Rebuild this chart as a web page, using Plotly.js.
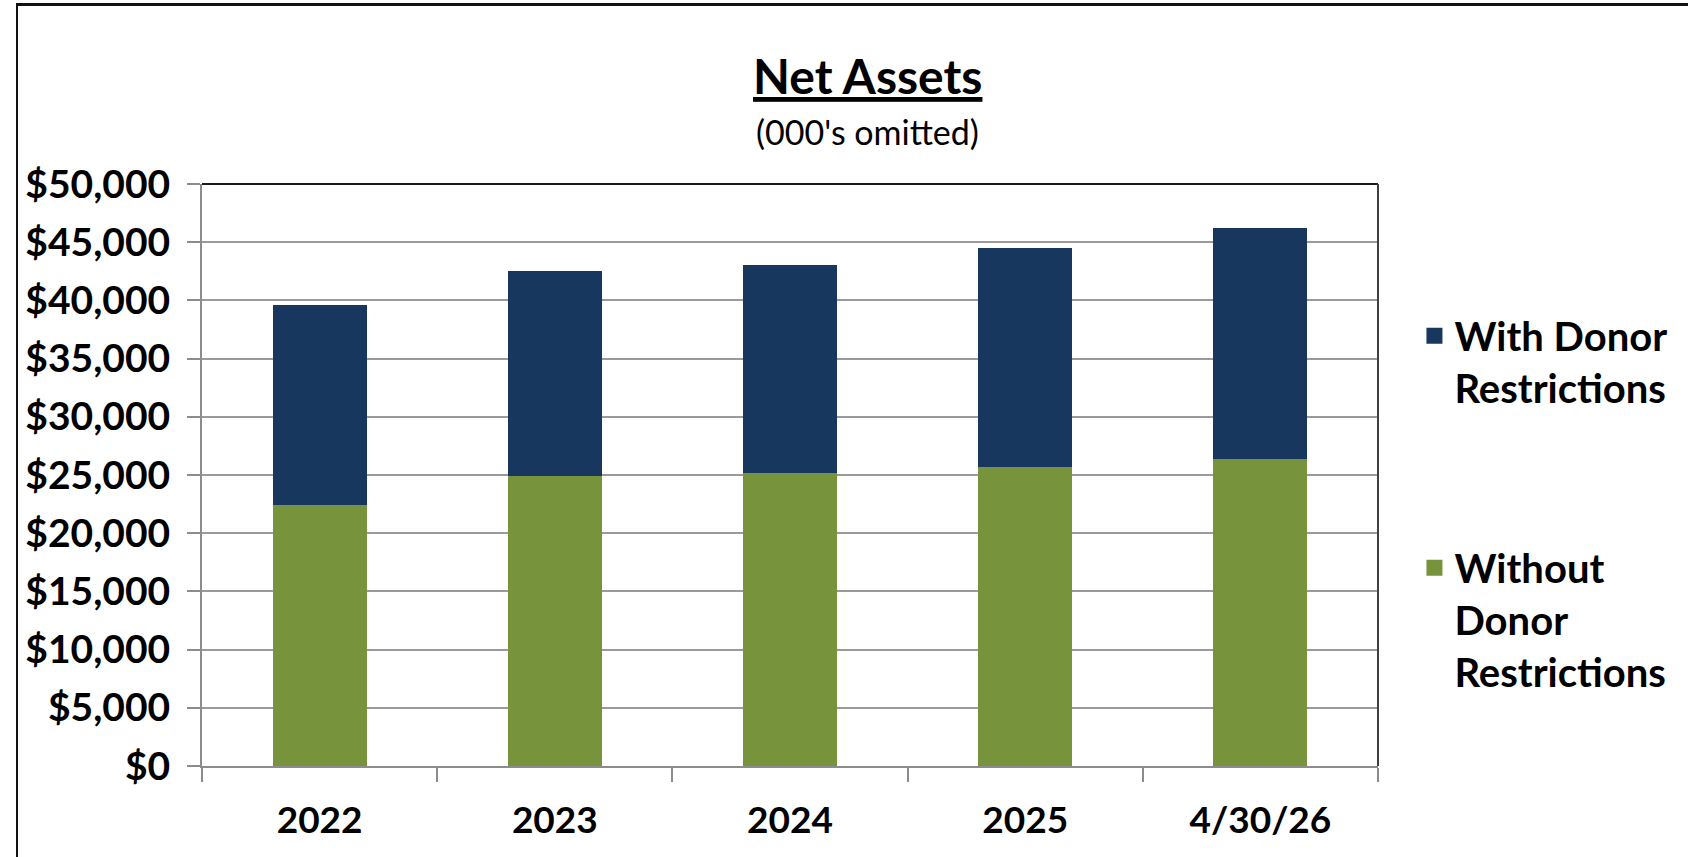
<!DOCTYPE html>
<html>
<head>
<meta charset="utf-8">
<script src="https://cdn.plot.ly/plotly-3.0.1.min.js"></script>
<style>
  body { margin: 0; background: #fff; }
  #chart { width: 1688px; height: 857px; }
  /* frame lines of the original slide, top and left */
  #frame {
    position: absolute; left: 16px; top: 3px; width: 1700px; height: 900px;
    border-top: 3px solid #111; border-left: 2px solid #111;
    pointer-events: none;
  }
</style>
</head>
<body>
<div id="chart"></div>
<div id="frame"></div>
<script>
// values in $000's
const periods = ["2022", "2023", "2024", "2025", "4/30/26"];
const withoutDonor = [22450, 24900, 25150, 25700, 26350];
const withDonor = [17150, 17600, 17850, 18800, 19850];

const NAVY = "#17375E";
const GREEN = "#77933C";
const FONT = "Lato, 'Open Sans', sans-serif";

const WITH_LABEL = "With Donor<br>Restrictions";
const WITHOUT_LABEL = "Without<br>Donor<br>Restrictions";

const traces = [
  {
    type: "bar",
    name: WITHOUT_LABEL,
    x: periods,
    y: withoutDonor,
    marker: { color: GREEN },
    showlegend: false,
    hoverinfo: "y"
  },
  {
    type: "bar",
    name: WITH_LABEL,
    x: periods,
    y: withDonor,
    marker: { color: NAVY },
    showlegend: false,
    hoverinfo: "y"
  },
  // legend-only entries, so the swatches can be bigger than the bar default
  {
    type: "scatter", mode: "markers", name: WITH_LABEL,
    x: [null], y: [null], legendgroup: "with",
    marker: { symbol: "square", size: 24, color: NAVY }
  },
  {
    type: "scatter", mode: "markers", name: WITHOUT_LABEL,
    x: [null], y: [null], legendgroup: "without",
    marker: { symbol: "square", size: 24, color: GREEN }
  }
];

const layout = {
  width: 1688,
  height: 857,
  margin: { l: 202, r: 310, t: 184, b: 91 },
  paper_bgcolor: "#fff",
  plot_bgcolor: "#fff",
  barmode: "stack",
  bargap: 0.6,
  font: { family: FONT, color: "#000" },
  showlegend: true,
  legend: {
    x: 1.031, xanchor: "left",
    y: 0.795, yanchor: "top",
    font: { family: FONT, size: 40, color: "#000", weight: "bold" },
    traceorder: "grouped",
    tracegroupgap: 125,
    valign: "top"
  },
  xaxis: {
    type: "category",
    showline: true, linecolor: "#8c8c8c", linewidth: 2,
    ticks: "outside", ticklen: 14, tickcolor: "#8c8c8c", tickwidth: 2,
    tickson: "boundaries",
    ticklabelstandoff: 21,
    tickfont: { family: FONT, size: 37, color: "#000", weight: "bold" },
    showgrid: false
  },
  yaxis: {
    range: [0, 50000],
    dtick: 5000,
    tickprefix: "$",
    tickformat: ",d",
    showline: true, linecolor: "#8c8c8c", linewidth: 2,
    ticks: "outside", ticklen: 13, tickcolor: "#8c8c8c", tickwidth: 2,
    ticklabelstandoff: 9,
    tickfont: { family: FONT, size: 39, color: "#000", weight: "bold" },
    showgrid: true, gridcolor: "#9a9a9a", gridwidth: 2,
    zeroline: false
  },
  shapes: [
    // dark top and right edges of the plot area
    { type: "line", xref: "paper", yref: "paper", x0: 0, x1: 1, y0: 1, y1: 1,
      line: { color: "#1a1a1a", width: 2 } },
    { type: "line", xref: "paper", yref: "paper", x0: 1, x1: 1, y0: 0, y1: 1,
      line: { color: "#404040", width: 2 } }
  ],
  annotations: [
    {
      text: "<b><u>Net Assets</u></b>",
      xref: "paper", yref: "paper", x: 0.5655, y: 1.187,
      xanchor: "center", yanchor: "middle", showarrow: false,
      font: { family: FONT, size: 48, color: "#000" }
    },
    {
      text: "(000's omitted)",
      xref: "paper", yref: "paper", x: 0.5655, y: 1.091,
      xanchor: "center", yanchor: "middle", showarrow: false,
      font: { family: FONT, size: 34, color: "#000" }
    }
  ]
};

Plotly.newPlot("chart", traces, layout, { displayModeBar: false, staticPlot: true });
</script>
</body>
</html>
